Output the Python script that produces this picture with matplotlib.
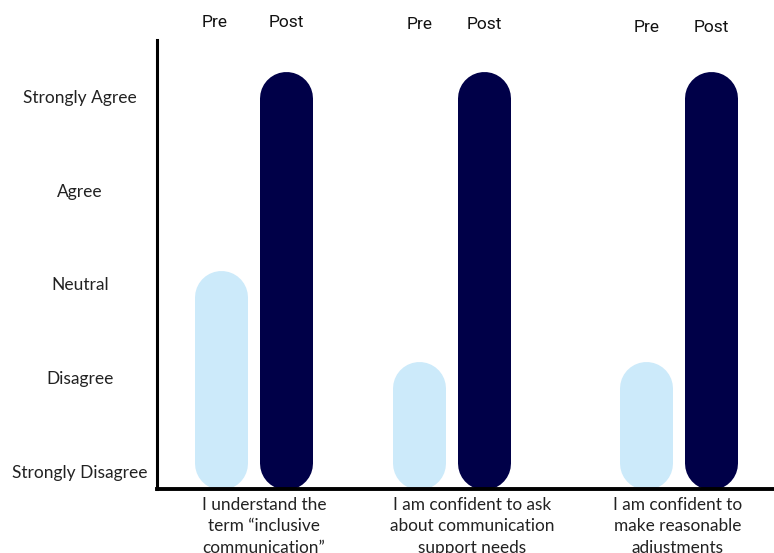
import matplotlib.pyplot as plt
import matplotlib.transforms as mtransforms
import numpy as np

plt.rcParams['font.family'] = ['Lato', 'DejaVu Sans']

# data
levels = ['Strongly Disagree', 'Disagree', 'Neutral', 'Agree', 'Strongly Agree']
level_values = [1, 2, 3, 4, 5]
statements = ['I understand the\nterm \u201cinclusive\ncommunication\u201d',
              'I am confident to ask\nabout communication\nsupport needs',
              'I am confident to\nmake reasonable\nadjustments']
pre_scores = [2.88, 1.91, 1.91]
post_scores = [5.0, 5.0, 5.0]

# layout (group centres are slightly uneven in the original)
group_x = np.array([0.0, 0.934, 2.004])
label_x = [0.048, 1.03, 2.001]
pre_label_shift = [-0.033, 0.0, 0.0]
offset = 0.153
head_y = [0.960, 0.956, 0.951]
pre_color = '#CCEAFA'
post_color = '#000048'

fig = plt.figure(figsize=(7.74, 5.53), dpi=100)
ax = fig.add_axes([0.2028, 0.1157, 0.7972, 0.812])
ax.set_xlim(-0.456, 2.454)
ax.set_ylim(0.829, 5.619)

for s in ['top', 'right']:
    ax.spines[s].set_visible(False)
ax.spines['left'].set_linewidth(2.2)
ax.spines['bottom'].set_linewidth(2.8)
ax.set_xticks([])
ax.set_yticks([])

# rounded bars drawn as thick lines with round caps
bar_px = 53
lw = bar_px * 72 / fig.dpi
ax_h_px = 0.812 * 5.53 * fig.dpi
y0, y1 = ax.get_ylim()
r = (bar_px / 2) / (ax_h_px / (y1 - y0))
base = y0 + r

for i in range(len(statements)):
    ax.plot([group_x[i] - offset] * 2, [base, pre_scores[i]], color=pre_color,
            linewidth=lw, solid_capstyle='round', zorder=2)
    ax.plot([group_x[i] + offset] * 2, [base, post_scores[i]], color=post_color,
            linewidth=lw, solid_capstyle='round', zorder=2)
    ax.annotate('Pre', xy=(group_x[i] - offset + pre_label_shift[i], head_y[i]),
                xycoords=('data', 'figure fraction'), ha='center', va='center',
                fontsize=12.5, family=['Roboto', 'DejaVu Sans'], color='#111111')
    ax.annotate('Post', xy=(group_x[i] + offset, head_y[i]),
                xycoords=('data', 'figure fraction'), ha='center', va='center',
                fontsize=12.5, family=['Roboto', 'DejaVu Sans'], color='#111111')
    ax.annotate(statements[i], xy=(label_x[i], 0.1016),
                xycoords=('data', 'figure fraction'), ha='center', va='top',
                fontsize=12.4, linespacing=1.42, color='#222222')

trans = mtransforms.blended_transform_factory(fig.transFigure, ax.transData)
for lab, v in zip(levels, level_values):
    ax.text(0.103, v, lab, transform=trans, ha='center', va='center',
            fontsize=12.5, color='#222222')

fig.savefig('out.png', dpi=100)
